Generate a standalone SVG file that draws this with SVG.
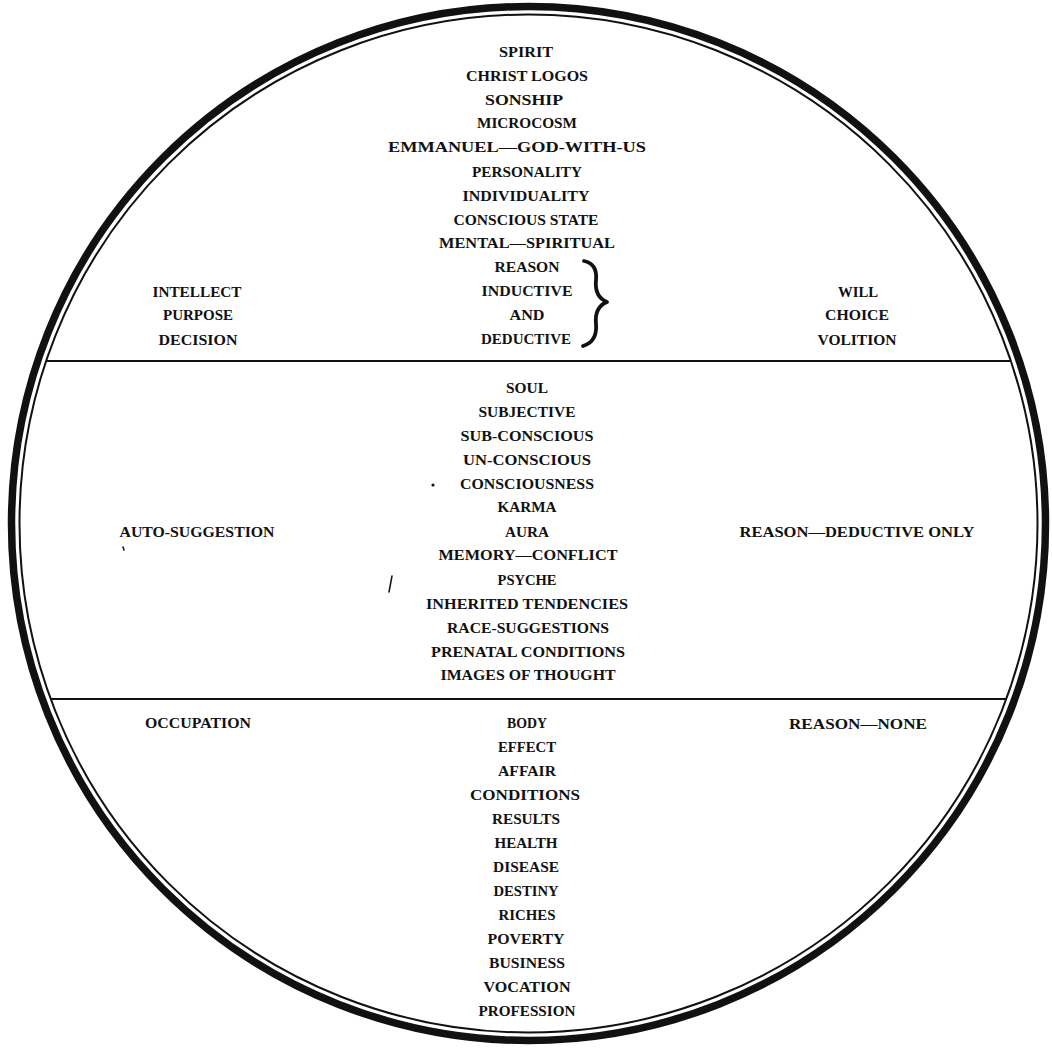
<svg xmlns="http://www.w3.org/2000/svg" width="1052" height="1052" viewBox="0 0 1052 1052">
<style>
  text { font-family: "Liberation Serif", "Times New Roman", serif; font-weight: bold; font-size: 15.5px; fill: #111; text-anchor: middle; }
  .ring-outer { fill: none; stroke: #111; stroke-width: 7.5; }
  .ring-inner { fill: none; stroke: #111; stroke-width: 2; }
  .divider { stroke: #111; stroke-width: 2.2; fill: none; }
  .brace { fill: none; stroke: #111; stroke-width: 3.8; stroke-linecap: round; stroke-linejoin: round; }
  .speck { fill: none; stroke: #111; stroke-width: 1.5; stroke-linecap: round; }
</style>
<rect width="1052" height="1052" fill="#ffffff"/>
<g id="frame">
  <circle class="ring-outer" cx="528.5" cy="523.5" r="517"/>
  <circle class="ring-inner" cx="528.5" cy="523.5" r="509"/>
</g>
<g id="connectors">
  <line class="divider" x1="47" y1="361" x2="1010" y2="361"/>
  <line class="divider" x1="51" y1="699" x2="1006" y2="699"/>
  <path class="brace" d="M584,261 C594,263 597,270 596,280 C595,290 597,298 607,302 C597,306 595,314 596,324 C597,336 593,343 583,346"/>
</g>
<g id="spirit-column">
  <text x="526" y="57" textLength="54" lengthAdjust="spacingAndGlyphs">SPIRIT</text>
  <text x="527" y="81" textLength="122" lengthAdjust="spacingAndGlyphs">CHRIST LOGOS</text>
  <text x="524" y="105" textLength="78" lengthAdjust="spacingAndGlyphs">SONSHIP</text>
  <text x="527" y="128" textLength="100" lengthAdjust="spacingAndGlyphs">MICROCOSM</text>
  <text x="517" y="152" textLength="258" lengthAdjust="spacingAndGlyphs">EMMANUEL—GOD-WITH-US</text>
  <text x="527" y="177" textLength="110" lengthAdjust="spacingAndGlyphs">PERSONALITY</text>
  <text x="526" y="201" textLength="127" lengthAdjust="spacingAndGlyphs">INDIVIDUALITY</text>
  <text x="526" y="225" textLength="145" lengthAdjust="spacingAndGlyphs">CONSCIOUS STATE</text>
  <text x="527" y="248" textLength="176" lengthAdjust="spacingAndGlyphs">MENTAL—SPIRITUAL</text>
  <text x="527" y="272" textLength="65" lengthAdjust="spacingAndGlyphs">REASON</text>
  <text x="527" y="296" textLength="91" lengthAdjust="spacingAndGlyphs">INDUCTIVE</text>
  <text x="527" y="320" textLength="35" lengthAdjust="spacingAndGlyphs">AND</text>
  <text x="526" y="344" textLength="90" lengthAdjust="spacingAndGlyphs">DEDUCTIVE</text>
</g>
<g id="intellect-column">
  <text x="197" y="297" textLength="89" lengthAdjust="spacingAndGlyphs">INTELLECT</text>
  <text x="198" y="320" textLength="70" lengthAdjust="spacingAndGlyphs">PURPOSE</text>
  <text x="198" y="345" textLength="79" lengthAdjust="spacingAndGlyphs">DECISION</text>
</g>
<g id="will-column">
  <text x="858" y="297" textLength="40" lengthAdjust="spacingAndGlyphs">WILL</text>
  <text x="857" y="320" textLength="64" lengthAdjust="spacingAndGlyphs">CHOICE</text>
  <text x="857" y="345" textLength="79" lengthAdjust="spacingAndGlyphs">VOLITION</text>
</g>
<g id="soul-column">
  <text x="527" y="393" textLength="42" lengthAdjust="spacingAndGlyphs">SOUL</text>
  <text x="527" y="417" textLength="97" lengthAdjust="spacingAndGlyphs">SUBJECTIVE</text>
  <text x="527" y="441" textLength="133" lengthAdjust="spacingAndGlyphs">SUB-CONSCIOUS</text>
  <text x="527" y="465" textLength="128" lengthAdjust="spacingAndGlyphs">UN-CONSCIOUS</text>
  <text x="527" y="489" textLength="134" lengthAdjust="spacingAndGlyphs">CONSCIOUSNESS</text>
  <text x="527" y="512" textLength="59" lengthAdjust="spacingAndGlyphs">KARMA</text>
  <text x="527" y="537" textLength="44" lengthAdjust="spacingAndGlyphs">AURA</text>
  <text x="528" y="560" textLength="179" lengthAdjust="spacingAndGlyphs">MEMORY—CONFLICT</text>
  <text x="527" y="585" textLength="59" lengthAdjust="spacingAndGlyphs">PSYCHE</text>
  <text x="527" y="609" textLength="202" lengthAdjust="spacingAndGlyphs">INHERITED TENDENCIES</text>
  <text x="528" y="633" textLength="162" lengthAdjust="spacingAndGlyphs">RACE-SUGGESTIONS</text>
  <text x="528" y="657" textLength="194" lengthAdjust="spacingAndGlyphs">PRENATAL CONDITIONS</text>
  <text x="528" y="680" textLength="175" lengthAdjust="spacingAndGlyphs">IMAGES OF THOUGHT</text>
</g>
<g id="auto-suggestion">
  <text x="197" y="537" textLength="155" lengthAdjust="spacingAndGlyphs">AUTO-SUGGESTION</text>
</g>
<g id="reason-deductive-only">
  <text x="857" y="537" textLength="235" lengthAdjust="spacingAndGlyphs">REASON—DEDUCTIVE ONLY</text>
</g>
<g id="body-column">
  <text x="527" y="728" textLength="40" lengthAdjust="spacingAndGlyphs">BODY</text>
  <text x="527" y="752" textLength="58" lengthAdjust="spacingAndGlyphs">EFFECT</text>
  <text x="527" y="776" textLength="58" lengthAdjust="spacingAndGlyphs">AFFAIR</text>
  <text x="525" y="800" textLength="110" lengthAdjust="spacingAndGlyphs">CONDITIONS</text>
  <text x="526" y="824" textLength="68" lengthAdjust="spacingAndGlyphs">RESULTS</text>
  <text x="526" y="848" textLength="63" lengthAdjust="spacingAndGlyphs">HEALTH</text>
  <text x="526" y="872" textLength="66" lengthAdjust="spacingAndGlyphs">DISEASE</text>
  <text x="526" y="896" textLength="65" lengthAdjust="spacingAndGlyphs">DESTINY</text>
  <text x="527" y="920" textLength="57" lengthAdjust="spacingAndGlyphs">RICHES</text>
  <text x="526" y="944" textLength="77" lengthAdjust="spacingAndGlyphs">POVERTY</text>
  <text x="527" y="968" textLength="76" lengthAdjust="spacingAndGlyphs">BUSINESS</text>
  <text x="527" y="992" textLength="87" lengthAdjust="spacingAndGlyphs">VOCATION</text>
  <text x="527" y="1016" textLength="97" lengthAdjust="spacingAndGlyphs">PROFESSION</text>
</g>
<g id="occupation">
  <text x="198" y="728" textLength="106" lengthAdjust="spacingAndGlyphs">OCCUPATION</text>
</g>
<g id="reason-none">
  <text x="858" y="729" textLength="138" lengthAdjust="spacingAndGlyphs">REASON—NONE</text>
</g>
<g id="specks">
  <circle cx="433" cy="485" r="1.6" fill="#111"/>
  <path class="speck" d="M392,576 L389,592"/>
  <path class="speck" d="M123,547 L124,550"/>
</g>
</svg>
